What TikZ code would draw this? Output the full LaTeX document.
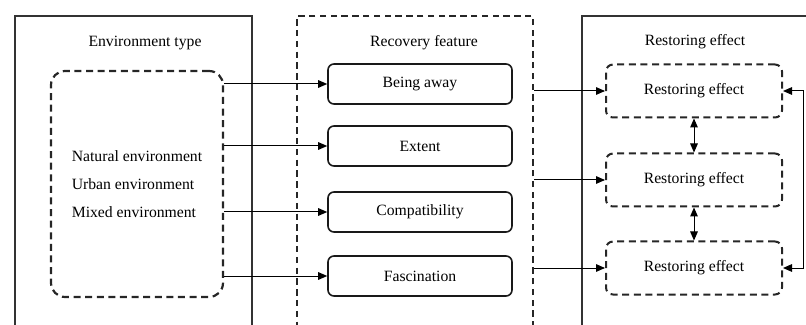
\documentclass[tikz,border=0pt]{standalone}
\usepackage{fontspec}
\setmainfont{Liberation Serif}
\usetikzlibrary{arrows.meta}
\begin{document}
\begin{tikzpicture}[x=0.5pt,y=-0.5pt,
  every node/.style={font=\fontsize{7.85}{14}\selectfont, inner sep=0pt},
  frame/.style={draw=black!80, line width=1pt},
  dframe/.style={draw=black!85, line width=1pt, dash pattern=on 3.2pt off 2.2pt},
  envbox/.style={draw=black!85, line width=1.1pt, dash pattern=on 3.5pt off 2.3pt, rounded corners=7pt,
    minimum width=86pt, minimum height=113pt, align=left},
  featbox/.style={draw=black!90, line width=0.8pt, rounded corners=3pt, minimum width=92pt, minimum height=20pt},
  restbox/.style={draw=black!85, line width=1pt, dash pattern=on 3.5pt off 2.3pt, rounded corners=3.5pt,
    minimum width=88pt, minimum height=26.5pt},
  arr/.style={line width=0.5pt, -{Triangle[length=4.5pt,width=3.8pt]}},
  darr/.style={line width=0.5pt, {Triangle[length=4.5pt,width=3.8pt]}-{Triangle[length=4.5pt,width=3.8pt]}}
]
\useasboundingbox (0,0) rectangle (806,325);
\clip (0,0) rectangle (806,325);
% outer frames
\node[frame, minimum width=118.5pt, minimum height=162pt] (envframe) at (133.5,178) {};
\node[dframe, minimum width=118pt, minimum height=162pt] (featframe) at (415,178) {};
\node[frame, minimum width=124pt, minimum height=162pt] (restframe) at (706,178) {};
% titles
\node (t1) at (145,43) {Environment type};
\node (t2) at (424,43) {Recovery feature};
\node (t3) at (695,42) {Restoring effect};
% environment box
\node[envbox] (env) at (137,184) {Natural environment\\Urban environment\\Mixed environment};
% feature boxes
\node[featbox] (f1) at (420,84) {Being away};
\node[featbox] (f2) at (420,146) {Extent};
\node[featbox] (f3) at (420,212) {Compatibility};
\node[featbox] (f4) at (420,276) {Fascination};
% restoring boxes
\node[restbox] (r1) at (694,91) {Restoring effect};
\node[restbox] (r2) at (694,180) {Restoring effect};
\node[restbox] (r3) at (694,268) {Restoring effect};
% arrows env -> features
\draw[arr] (env.east |- f1) -- (f1);
\draw[arr] (env.east |- f2) -- (f2);
\draw[arr] (env.east |- f3) -- (f3);
\draw[arr] (env.east |- f4) -- (f4);
% arrows features -> restoring
\draw[arr] (featframe.east |- r1) -- (r1);
\draw[arr] (featframe.east |- r2) -- (r2);
\draw[arr] (featframe.east |- r3) -- (r3);
% double arrows
\draw[darr] (r1.south) -- (r2.north);
\draw[darr] (r2.south) -- (r3.north);
% right loop
\coordinate (loopa) at (803,91);
\coordinate (loopb) at (803,268);
\draw[darr] (r1.east) -- (loopa) -- (loopb) -- (r3.east);
\end{tikzpicture}
\end{document}
